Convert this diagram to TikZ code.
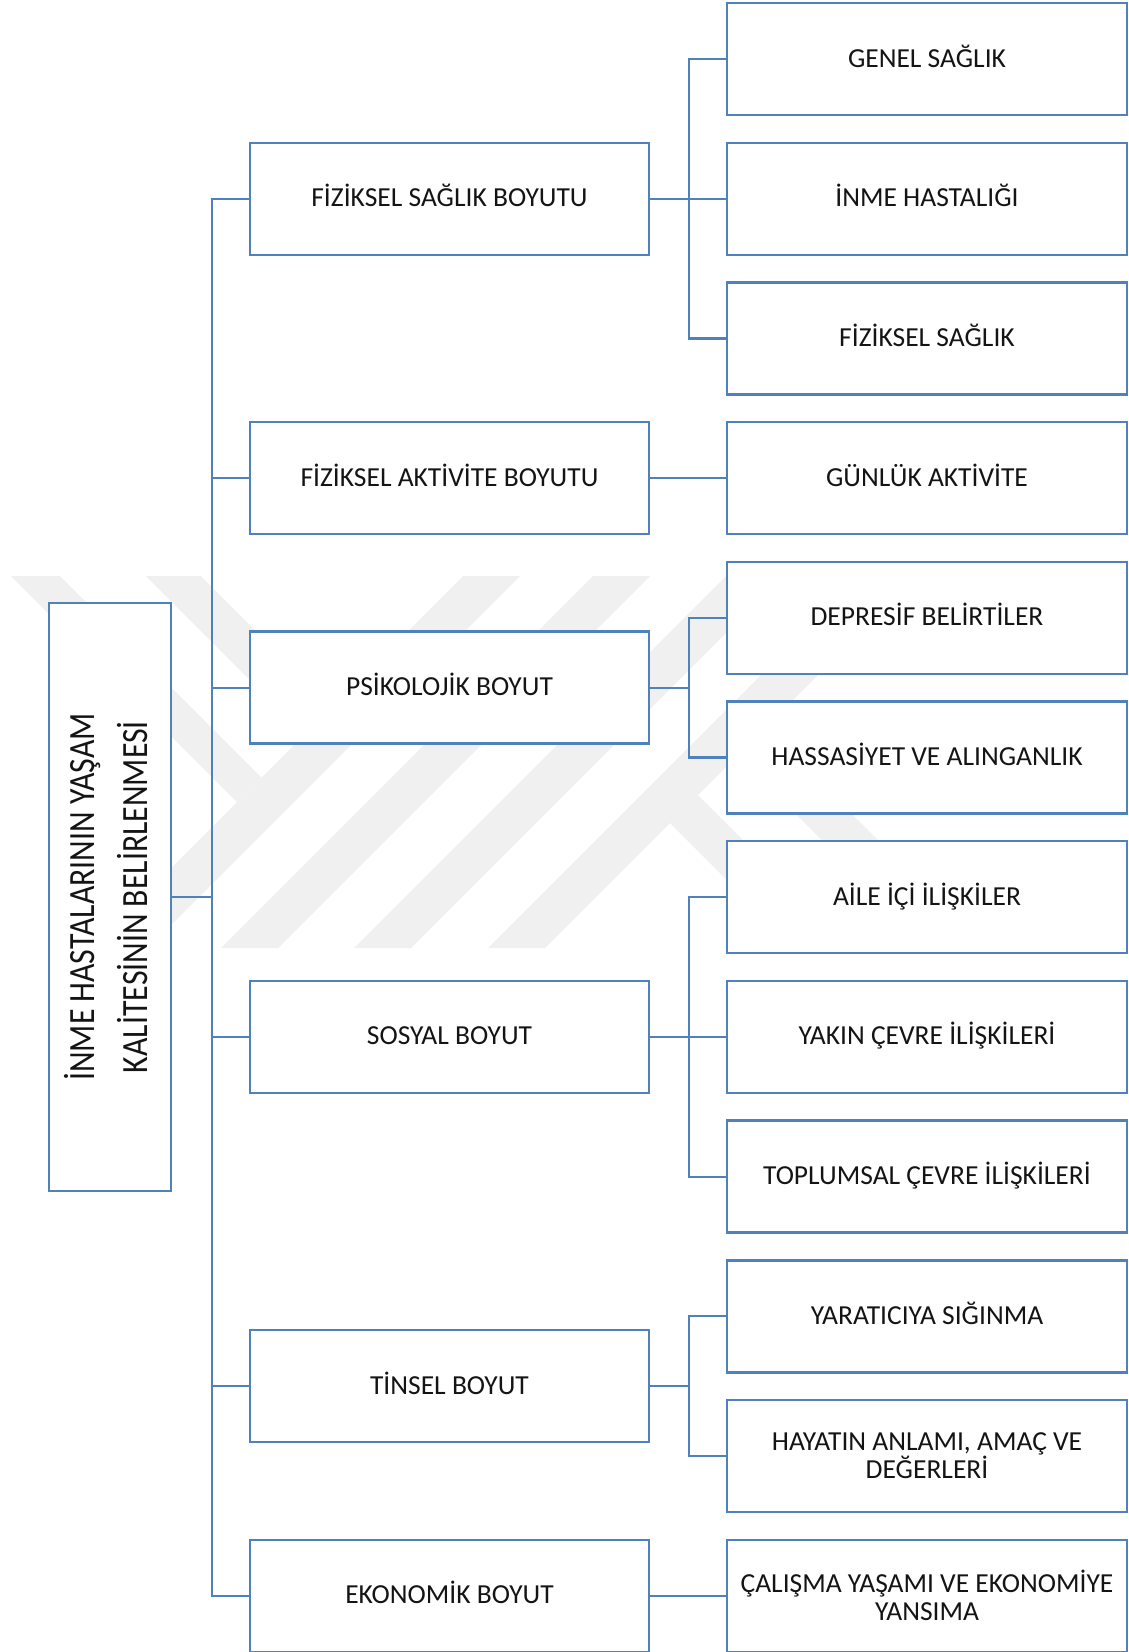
\documentclass[tikz,border=0pt]{standalone}
\usepackage{graphicx}
\usepackage{fontspec}
\setmainfont{Carlito}
\definecolor{ln}{HTML}{4F81BD}
\definecolor{wm}{HTML}{F0F0F0}
\definecolor{tx}{HTML}{141414}
\begin{document}
\begin{tikzpicture}[x=1pt,y=-1pt,
  box/.style={draw=ln, line width=2.4pt, fill=white, inner sep=0pt, text=tx,
    minimum width=399pt, minimum height=112pt, align=center,
    font=\fontsize{27.5}{28}\selectfont},
  one/.style={text height=21pt, text depth=5pt},
  rbox/.style={box, minimum width=400pt},
  conn/.style={draw=ln, line width=2.2pt},
  wmark/.style={fill=wm, draw=none}]
\useasboundingbox (0,0) rectangle (1129,1652);
% watermark
\fill[wmark] (11,576) -- (60,576) -- (261.5,777.5) -- (237,802) -- cycle;
\fill[wmark] (146,576) -- (201,576) -- (332,707) -- (304.5,734.5) -- cycle;
\fill[wmark] (463,576) -- (520,576) -- (148,948) -- (91,948) -- cycle;
\fill[wmark] (593,576) -- (650,576) -- (278,948) -- (221,948) -- cycle;
\fill[wmark] (726,576) -- (783,576) -- (411,948) -- (354,948) -- cycle;
\fill[wmark] (860,576) -- (917,576) -- (545,948) -- (488,948) -- cycle;
\fill[wmark] (698,795) -- (851,948) -- (795,948) -- (670,823) -- cycle;
\fill[wmark] (765.5,727.5) -- (986,948) -- (930,948) -- (737.5,755.5) -- cycle;
% root
\node[box, minimum width=122pt, minimum height=588pt] (root) at (110,897)
  {\rotatebox{90}{\scalebox{0.86}[1]{\fontsize{37}{53}\selectfont\begin{tabular}{@{}c@{}}İNME HASTALARININ YAŞAM\\KALİTESİNİN BELİRLENMESİ\end{tabular}}}};
% middle column
\node[box, one] (m1) at (449.5,198.7) {FİZİKSEL SAĞLIK BOYUTU};
\node[box, one] (m2) at (449.5,478.1) {FİZİKSEL AKTİVİTE BOYUTU};
\node[box, one] (m3) at (449.5,687.65) {PSİKOLOJİK BOYUT};
\node[box, one] (m4) at (449.5,1036.9) {SOSYAL BOYUT};
\node[box, one] (m5) at (449.5,1386.15) {TİNSEL BOYUT};
\node[box, one] (m6) at (449.5,1595.7) {EKONOMİK BOYUT};
% right column
\node[rbox, one] (r0) at (927,59) {GENEL SAĞLIK};
\node[rbox, one] (r1) at (927,198.7) {İNME HASTALIĞI};
\node[rbox, one] (r2) at (927,338.4) {FİZİKSEL SAĞLIK};
\node[rbox, one] (r3) at (927,478.1) {GÜNLÜK AKTİVİTE};
\node[rbox, one] (r4) at (927,617.8) {DEPRESİF BELİRTİLER};
\node[rbox, one] (r5) at (927,757.5) {HASSASİYET VE ALINGANLIK};
\node[rbox, one] (r6) at (927,897.2) {AİLE İÇİ İLİŞKİLER};
\node[rbox, one] (r7) at (927,1036.9) {YAKIN ÇEVRE İLİŞKİLERİ};
\node[rbox, one] (r8) at (927,1176.6) {TOPLUMSAL ÇEVRE İLİŞKİLERİ};
\node[rbox, one] (r9) at (927,1316.3) {YARATICIYA SIĞINMA};
\node[rbox] (r10) at (927,1456) {HAYATIN ANLAMI, AMAÇ VE\\DEĞERLERİ};
\node[rbox] (r11) at (927,1595.7) {ÇALIŞMA YAŞAMI VE EKONOMİYE\\YANSIMA};
% connectors
\foreach \m in {m1,m2,m3,m4,m5,m6}
  \draw[conn] (root.east) -- ++(39.5,0) |- (\m.west);
\foreach \r in {r0,r1,r2}
  \draw[conn] (m1.east) -- ++(39,0) |- (\r.west);
\draw[conn] (m2.east) -- (r3.west);
\foreach \r in {r4,r5}
  \draw[conn] (m3.east) -- ++(39,0) |- (\r.west);
\foreach \r in {r6,r7,r8}
  \draw[conn] (m4.east) -- ++(39,0) |- (\r.west);
\foreach \r in {r9,r10}
  \draw[conn] (m5.east) -- ++(39,0) |- (\r.west);
\draw[conn] (m6.east) -- (r11.west);
\end{tikzpicture}
\end{document}
